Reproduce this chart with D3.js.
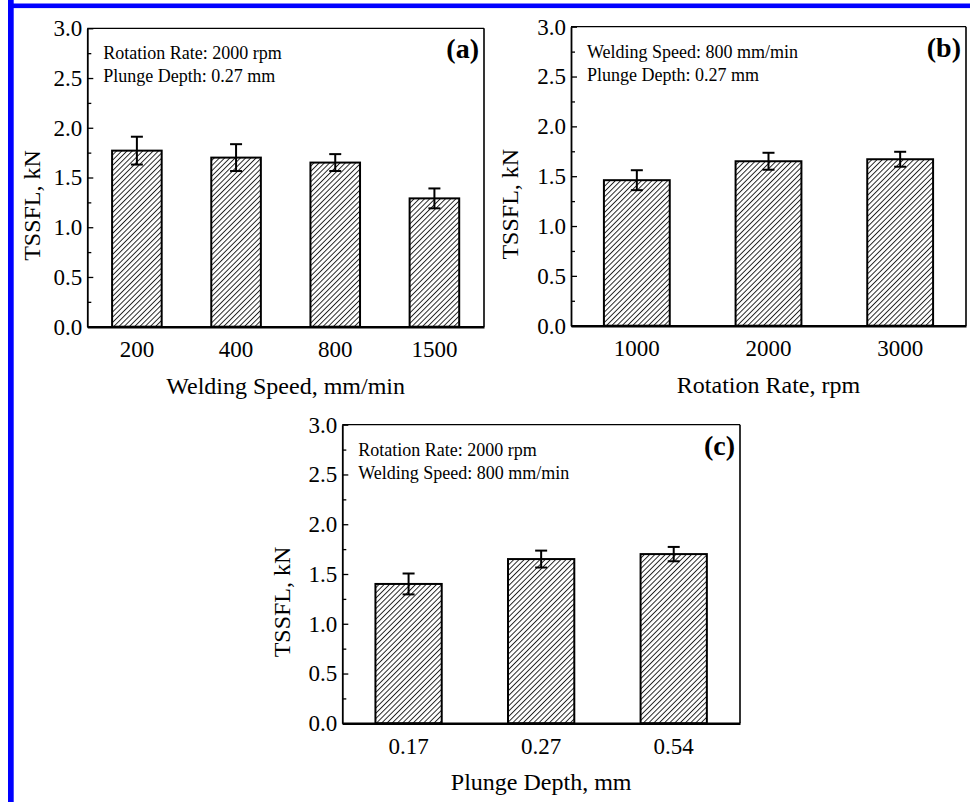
<!DOCTYPE html>
<html>
<head>
<meta charset="utf-8">
<script src="https://cdn.jsdelivr.net/npm/d3@7"></script>
<style>
    body { margin: 0; background: #fff; }
    svg { display: block; }
    text { font-family: "Liberation Serif", "Times New Roman", serif; fill: #000; }
</style>
</head>
<body>
<script>
// values (TSSFL in kN, error = half bar length)
const speedCats = ['200', '400', '800', '1500'];
const speedTssfl = [1.77, 1.70, 1.65, 1.29];
const speedErr = [0.14, 0.135, 0.085, 0.10];

const rateCats = ['1000', '2000', '3000'];
const rateTssfl = [1.46, 1.65, 1.67];
const rateErr = [0.10, 0.085, 0.075];

const depthCats = ['0.17', '0.27', '0.54'];
const depthTssfl = [1.40, 1.65, 1.70];
const depthErr = [0.105, 0.085, 0.072];

const yTicks = [0, 0.5, 1.0, 1.5, 2.0, 2.5, 3.0];
const yMinorTicks = [0.25, 0.75, 1.25, 1.75, 2.25, 2.75];

const width = 970;
const height = 802;
const serif = '"Liberation Serif", "Times New Roman", serif';

const svg = d3.select('body')
    .append('svg')
    .attr('width', width)
    .attr('height', height);

// hatch fill for the bars
svg.append('defs')
    .append('pattern')
        .attr('id', 'hatch')
        .attr('patternUnits', 'userSpaceOnUse')
        .attr('width', 3.7)
        .attr('height', 3.7)
        .attr('patternTransform', 'rotate(45)')
    .append('line')
        .attr('x1', 0.5).attr('y1', 0)
        .attr('x2', 0.5).attr('y2', 3.7)
        .attr('stroke', '#111')
        .attr('stroke-width', 0.9);

// blue frame around the figure
svg.append('rect').attr('x', 8).attr('y', 0).attr('width', 5.7).attr('height', height).attr('fill', '#0000ff');
svg.append('rect').attr('x', 8).attr('y', 3.5).attr('width', width - 8).attr('height', 4.6).attr('fill', '#0000ff');

function drawPanel(p) {
    const g = svg.append('g');

    const x = d3.scaleBand()
        .domain(p.cats)
        .range([p.left, p.right])
        .paddingInner(0.5)
        .paddingOuter(0.25);

    const y = d3.scaleLinear()
        .domain([0, 3])
        .range([p.bottom, p.top]);

    const rows = p.cats.map((c, i) => ({ cat: c, val: p.values[i], err: p.errs[i] }));

    // bars
    g.append('g')
        .selectAll('rect')
        .data(rows)
        .join('rect')
            .attr('x', d => x(d.cat))
            .attr('y', d => y(d.val))
            .attr('width', x.bandwidth())
            .attr('height', d => y(0) - y(d.val))
            .attr('fill', 'url(#hatch)')
            .attr('stroke', '#000')
            .attr('stroke-width', 2);

    // error bars
    const eb = g.append('g')
        .attr('stroke', '#000')
        .attr('stroke-width', 2)
        .selectAll('g')
        .data(rows)
        .join('g')
            .attr('transform', d => `translate(${x(d.cat) + x.bandwidth() / 2},0)`);
    eb.append('line')
        .attr('y1', d => y(d.val - d.err))
        .attr('y2', d => y(d.val + d.err));
    eb.append('line')
        .attr('x1', -6).attr('x2', 6)
        .attr('y1', d => y(d.val + d.err))
        .attr('y2', d => y(d.val + d.err));
    eb.append('line')
        .attr('x1', -6).attr('x2', 6)
        .attr('y1', d => y(d.val - d.err))
        .attr('y2', d => y(d.val - d.err));

    // frame: top and right
    g.append('line')
        .attr('x1', p.left).attr('x2', p.right)
        .attr('y1', p.top).attr('y2', p.top)
        .attr('stroke', '#000').attr('stroke-width', 1.3);
    g.append('line')
        .attr('x1', p.right).attr('x2', p.right)
        .attr('y1', p.top).attr('y2', p.bottom)
        .attr('stroke', '#000').attr('stroke-width', 1.6);

    // y axis, ticks pointing inward
    const yAxis = g.append('g')
        .attr('transform', `translate(${p.left},0)`)
        .call(d3.axisLeft(y)
            .tickValues(yTicks)
            .tickFormat(d3.format('.1f'))
            .tickSizeInner(-6)
            .tickSizeOuter(0)
            .tickPadding(5))
        .attr('font-family', serif)
        .attr('font-size', 23);
    yAxis.select('.domain').attr('stroke-width', 1.8);
    yAxis.selectAll('.tick line').attr('stroke-width', 1.3);

    g.append('g')
        .attr('transform', `translate(${p.left},0)`)
        .call(d3.axisLeft(y)
            .tickValues(yMinorTicks)
            .tickFormat('')
            .tickSizeInner(-4)
            .tickSizeOuter(0))
        .call(s => s.select('.domain').remove())
        .selectAll('line')
            .attr('stroke-width', 1.3);

    // x axis, no tick marks
    const xAxis = g.append('g')
        .attr('transform', `translate(0,${p.bottom})`)
        .call(d3.axisBottom(x)
            .tickSize(0)
            .tickPadding(14))
        .attr('font-family', serif)
        .attr('font-size', 23);
    xAxis.select('.domain').attr('stroke-width', 2.6);

    // axis titles
    g.append('text')
        .attr('x', (p.left + p.right) / 2)
        .attr('y', p.bottom + 67)
        .attr('text-anchor', 'middle')
        .attr('font-size', 24)
        .text(p.xTitle);

    g.append('text')
        .attr('transform', `translate(${p.left - p.yTitleGap},${(p.top + p.bottom) / 2 + 28}) rotate(-90)`)
        .attr('text-anchor', 'middle')
        .attr('dy', '0.35em')
        .attr('font-size', 24)
        .text('TSSFL, kN');

    // conditions note + panel letter
    p.note.forEach((line, i) => {
        g.append('text')
            .attr('x', p.left + 16)
            .attr('y', p.top + 31 + i * 23)
            .attr('font-size', 18)
            .text(line);
    });

    g.append('text')
        .attr('x', p.right - 5)
        .attr('y', p.top + 30)
        .attr('text-anchor', 'end')
        .attr('font-size', 28)
        .attr('font-weight', 'bold')
        .text(p.label);
}

drawPanel({
    cats: speedCats, values: speedTssfl, errs: speedErr,
    left: 87.3, right: 484, top: 28.3, bottom: 326.7, yTitleGap: 56,
    xTitle: 'Welding Speed, mm/min',
    note: ['Rotation Rate: 2000 rpm', 'Plunge Depth: 0.27 mm'],
    label: '(a)'
});

drawPanel({
    cats: rateCats, values: rateTssfl, errs: rateErr,
    left: 571, right: 966, top: 26.7, bottom: 325.7, yTitleGap: 61,
    xTitle: 'Rotation Rate, rpm',
    note: ['Welding Speed: 800 mm/min', 'Plunge Depth: 0.27 mm'],
    label: '(b)'
});

drawPanel({
    cats: depthCats, values: depthTssfl, errs: depthErr,
    left: 342.3, right: 740, top: 424.7, bottom: 723.3, yTitleGap: 61,
    xTitle: 'Plunge Depth, mm',
    note: ['Rotation Rate: 2000 rpm', 'Welding Speed: 800 mm/min'],
    label: '(c)'
});
</script>
</body>
</html>
